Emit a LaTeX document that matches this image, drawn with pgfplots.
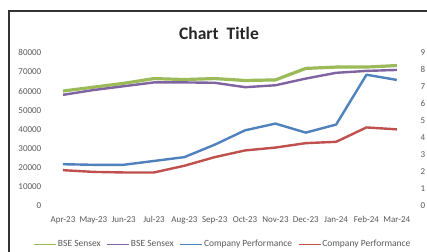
\documentclass[border=0pt]{standalone}
\usepackage{fontspec}
\setmainfont{Carlito}
\usepackage{pgfplots}
\pgfplotsset{compat=1.18}
\definecolor{xgreen}{HTML}{9BBB59}
\definecolor{xpurple}{HTML}{8064A2}
\definecolor{xblue}{HTML}{4F81BD}
\definecolor{xred}{HTML}{C0504D}
\definecolor{xtext}{HTML}{595959}
\begin{document}
\begin{tikzpicture}[x=1pt,y=1pt]
\useasboundingbox (0,0) rectangle (427,251);
\fill[white] (0,0) rectangle (427,251);
\draw[line width=2pt,color=black!80] (9,-20) -- (9,240) -- (450,240);
\node[font=\fontsize{17.5}{18}\selectfont\bfseries,text=black!85] at (219,218) {Chart\ \ Title};
\begin{axis}[
  at={(47.8pt,45pt)}, anchor=south west,
  scale only axis, width=364.2pt, height=153.3pt,
  xmin=-0.5, xmax=11.5, ymin=0, ymax=80000,
  xtick={0,...,11},
  xticklabels={Apr-23,May-23,Jun-23,Jul-23,Aug-23,Sep-23,Oct-23,Nov-23,Dec-23,Jan-24,Feb-24,Mar-24},
  ytick={0,10000,...,80000},
  scaled y ticks=false,
  /pgf/number format/.cd, assume math mode=true, set thousands separator={}, /pgfplots/.cd,
  axis line style={draw=none},
  major tick length=0pt,
  tick label style={font=\fontsize{9}{10}\selectfont, text=xtext},
  xticklabel style={yshift=-10pt, inner sep=0pt},
  yticklabel style={xshift=-3pt},
  legend columns=4,
  legend style={at={(0.48,-0.25)}, anchor=center, draw=none, fill=none,
    font=\fontsize{9.5}{10}\selectfont, text=xtext, inner sep=0pt,
    nodes={inner sep=1pt},
    /tikz/every even column/.append style={column sep=5pt}},
  legend image code/.code={\draw[#1,line width=1.2pt] (0pt,0pt) -- (22pt,0pt);},
  every axis plot/.append style={line join=round},
]
\addplot[color=xgreen, line width=3.2pt] coordinates {
(0,60000) (1,62000) (2,64000) (3,66500) (4,66000) (5,66500) (6,65500) (7,65800) (8,71800) (9,72500) (10,72500) (11,73300)};
\addlegendentry{BSE Sensex}
\addplot[color=xpurple, line width=2.4pt] coordinates {
(0,58000) (1,60500) (2,62500) (3,64500) (4,64500) (5,64300) (6,62000) (7,63000) (8,66500) (9,69500) (10,70500) (11,71000)};
\addlegendentry{BSE Sensex}
\addplot[color=xblue, line width=2.4pt] coordinates {
(0,21800) (1,21500) (2,21500) (3,23500) (4,25500) (5,32000) (6,39500) (7,43000) (8,38300) (9,42500) (10,68500) (11,65800)};
\addlegendentry{Company Performance}
\addplot[color=xred, line width=2.4pt] coordinates {
(0,18700) (1,17800) (2,17500) (3,17500) (4,21000) (5,25500) (6,29000) (7,30500) (8,32800) (9,33500) (10,41000) (11,40000)};
\addlegendentry{Company Performance}
\end{axis}
\begin{axis}[
  at={(47.8pt,45pt)}, anchor=south west,
  scale only axis, width=364.2pt, height=153.3pt,
  xmin=-0.5, xmax=11.5, ymin=0, ymax=9,
  hide x axis,
  axis y line*=right,
  axis line style={draw=none},
  major tick length=0pt,
  ytick={0,...,9},
  /pgf/number format/assume math mode=true,
  yticklabel style={font=\fontsize{9}{10}\selectfont, text=xtext, xshift=5pt},
]
\addplot[draw=none] coordinates {(0,0)};
\end{axis}
\end{tikzpicture}
\end{document}
